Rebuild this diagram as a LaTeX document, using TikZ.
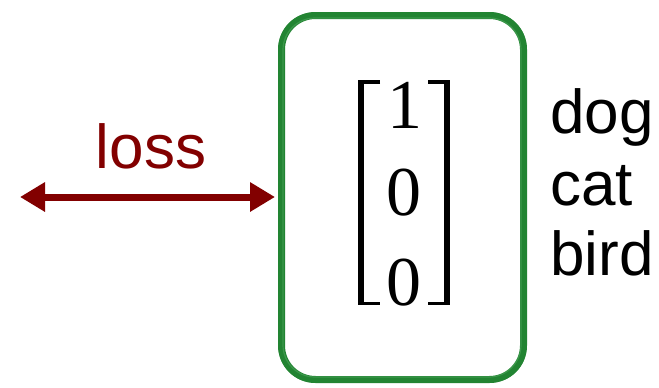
\documentclass[tikz,border=0pt]{standalone}
\usepackage{fontspec}
\newfontfamily\arial{Liberation Sans}
\newfontfamily\digitfont{Liberation Serif}
\usetikzlibrary{arrows.meta}
\definecolor{boxgreen}{RGB}{34,132,50}
\definecolor{lightgreen}{RGB}{70,160,85}
\definecolor{lossred}{RGB}{130,0,0}
\tikzset{
  sketchbox/.style={draw=boxgreen, line width=7pt, rounded corners=34pt,
    minimum width=242pt, minimum height=364pt, inner sep=0pt},
  lossarrow/.style={draw=lossred, line width=7pt,
    {Triangle[length=25pt,width=28pt]}-{Triangle[length=25pt,width=28pt]}},
  losslabel/.style={text=lossred, font=\arial\fontsize{62}{62}\selectfont, inner sep=0pt, anchor=base},
  classlabel/.style={text=black, font=\arial\fontsize{62}{62}\selectfont, inner sep=0pt, anchor=base west},
  digit/.style={text=black, font=\digitfont\fontsize{70}{70}\selectfont, inner sep=0pt, anchor=base},
  bracket/.style={draw=black, line width=3.5pt, line cap=butt, line join=miter}
}
\begin{document}
\begin{tikzpicture}[x=1pt, y=-1pt]
  \useasboundingbox[fill=white] (0,0) rectangle (659,388);
  % box with sketchy border
  \node[sketchbox] (box) at (402.5,197.5) {};
  \draw[lightgreen, line width=1.2pt, rounded corners=32pt, opacity=0.7]
    (283,18) rectangle (521,377);
  \draw[boxgreen, line width=1.5pt, rounded corners=36pt, opacity=0.8]
    (279,13) rectangle (526,382);
  % matrix entries
  \node[digit] (d1) at (405,128) {1};
  \node[digit] (d2) at (404,215) {0};
  \node[digit] (d3) at (404,305) {0};
  % brackets
  \draw[bracket] (380,81.75) -- (361.5,81.75) -- (361.5,303.25) -- (380,303.25);
  \draw[bracket] (428,81.75) -- (446.5,81.75) -- (446.5,303.25) -- (428,303.25);
  \draw[black, line width=5.5pt] (361,80) -- (361,305);
  \draw[black, line width=5.5pt] (447,80) -- (447,305);
  % loss arrow
  \coordinate (aL) at (20,197);
  \coordinate (aR) at (275,197);
  \draw[lossarrow] (aL) -- (aR);
  \node[losslabel] (loss) at (151,168) {loss};
  % class labels
  \node[classlabel] (dog) at (550,133) {dog};
  \node[classlabel] (cat) at (550,205) {cat};
  \node[classlabel] (bird) at (550,275) {bird};
\end{tikzpicture}
\end{document}
